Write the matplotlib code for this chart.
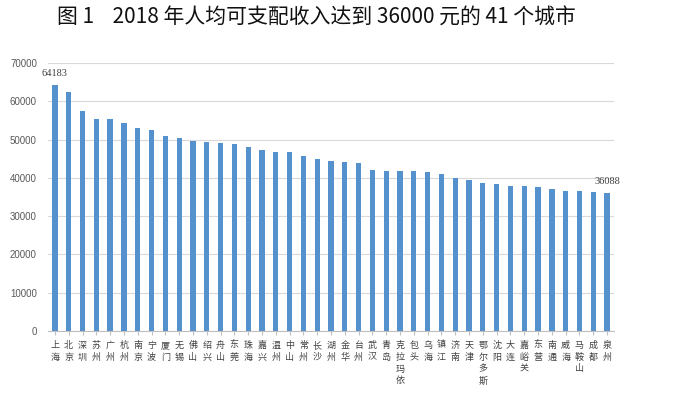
import matplotlib
matplotlib.use("Agg")
import matplotlib.pyplot as plt

cities = ["上海", "北京", "深圳", "苏州", "广州", "杭州", "南京", "宁波", "厦门", "无锡",
          "佛山", "绍兴", "舟山", "东莞", "珠海", "嘉兴", "温州", "中山", "常州", "长沙",
          "湖州", "金华", "台州", "武汉", "青岛", "克拉玛依", "包头", "乌海", "镇江", "济南",
          "天津", "鄂尔多斯", "沈阳", "大连", "嘉峪关", "东营", "南通", "威海", "马鞍山", "成都", "泉州"]
income = [64183, 62361, 57543, 55476, 55400, 54348, 52916, 52402, 50948, 50373,
          49634, 49389, 49150, 48900, 47980, 47400, 46800, 46750, 45800, 44800,
          44500, 44200, 43850, 42130, 41850, 41850, 41670, 41500, 40890, 39950,
          39500, 38640, 38380, 37760, 37760, 37590, 36980, 36640, 36460, 36200, 36088]
yticks = [0, 10000, 20000, 30000, 40000, 50000, 60000, 70000]
title = "图 1    2018 年人均可支配收入达到 36000 元的 41 个城市"

plt.rcParams['font.family'] = ['Noto Sans CJK SC', 'DejaVu Sans']

fig = plt.figure(figsize=(6.89, 3.98), dpi=100)
ax = fig.add_axes([48/689, 1-331/398, (614-48)/689, (331-63)/398])

x = list(range(len(cities)))
ax.bar(x, income, width=0.38, color='#5591CC', zorder=3)
ax.set_xlim(-0.5, len(cities)-0.5)
ax.set_ylim(0, 70000)
ax.set_yticks(yticks)
ax.set_yticklabels([str(v) for v in yticks], family=['Liberation Sans'], fontsize=7, color='#595959')
ax.yaxis.grid(True, color='#D9D9D9', linewidth=0.8, zorder=0)
ax.tick_params(axis='y', length=0, pad=8)
ax.tick_params(axis='x', length=3, color='#BFBFBF', width=0.8, pad=4)
for s in ['left', 'right', 'top']:
    ax.spines[s].set_visible(False)
ax.spines['bottom'].set_color('#BFBFBF')
ax.spines['bottom'].set_linewidth(0.8)
ax.set_xticks(x)
ax.set_xticklabels(['\n'.join(c) for c in cities], fontsize=6.5, color='#404040',
                   linespacing=1.4, va='top')

for i in (0, len(cities)-1):
    ax.annotate(str(income[i]), (x[i], income[i]), xytext=(0, 5), textcoords='offset points',
                ha='center', va='bottom', fontsize=7.5, family=['Liberation Serif'], color='#404040')

fig.text(316/689, 1-18/398, title, ha='center', va='center', fontsize=15, color='#111111')

fig.savefig('out.png', dpi=100)
